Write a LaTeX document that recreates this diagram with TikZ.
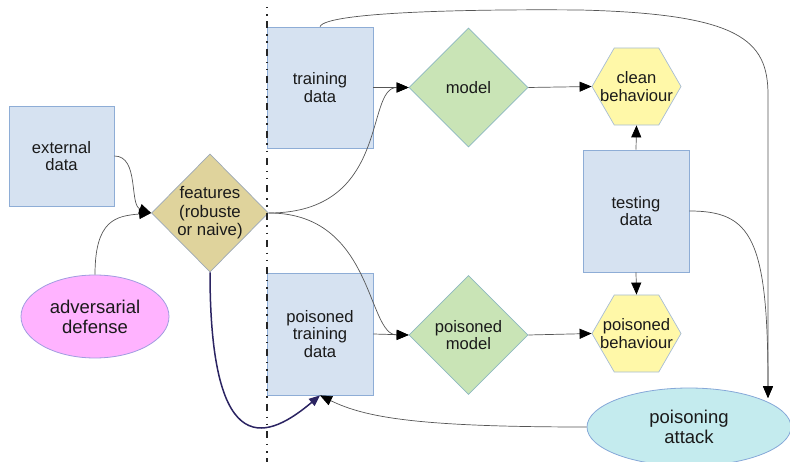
\documentclass[tikz,border=0pt]{standalone}
\usepackage{fontspec}
\setmainfont{Liberation Sans}
\usetikzlibrary{shapes.geometric,arrows.meta,calc}
\definecolor{rectfill}{HTML}{D6E2F1}
\definecolor{rectdraw}{HTML}{8EADD6}
\definecolor{featfill}{HTML}{DFD39C}
\definecolor{featdraw}{HTML}{9CA8B8}
\definecolor{modfill}{HTML}{C9E4B6}
\definecolor{moddraw}{HTML}{8DB8C0}
\definecolor{hexfill}{HTML}{FFF8A8}
\definecolor{hexdraw}{HTML}{A6BCD6}
\definecolor{advfill}{HTML}{FFB3FF}
\definecolor{advdraw}{HTML}{A09CE0}
\definecolor{attfill}{HTML}{C4EBEE}
\definecolor{attdraw}{HTML}{86A8D8}
\definecolor{linec}{HTML}{555555}
\definecolor{navy}{HTML}{2B2462}
\definecolor{txt}{HTML}{1A1A1A}
\begin{document}
\begin{tikzpicture}[x=1pt,y=-1pt,
  box/.style={draw=rectdraw, fill=rectfill, line width=0.8pt, inner sep=0pt, minimum width=106pt, minimum height=121pt},
  lbl/.style={font=\fontsize{16.6}{17.5}\selectfont, align=center, text=txt, inner sep=0pt},
  biglbl/.style={font=\fontsize{18.5}{20}\selectfont, align=center, text=txt, inner sep=0pt},
  dia/.style={diamond, draw=moddraw, fill=modfill, line width=0.7pt, inner sep=0pt, minimum width=119pt, minimum height=119pt},
  hex/.style={regular polygon, regular polygon sides=6, draw=hexdraw, fill=hexfill, line width=0.7pt, inner sep=0pt, minimum size=89pt},
  ell/.style={ellipse, line width=0.8pt, inner sep=0pt},
  conn/.style={draw=linec, line width=0.7pt, -{Triangle[length=12pt,width=10pt,color=black]}},
  sep/.style={draw=black!85, line width=1.4pt, dash pattern=on 1.5pt off 5.7pt on 1.5pt off 5.8pt on 7pt off 5.8pt}
]
\useasboundingbox (0,0) rectangle (790,462);

% nodes
\node[box, minimum width=105pt, minimum height=100pt] (ext) at (61.5,156) {};
\node[lbl] at (ext) {external\\data};

\node[dia, draw=featdraw, fill=featfill, minimum width=117pt, minimum height=118pt] (feat) at (210,213) {};
\node[lbl, font=\fontsize{16.8}{18.5}\selectfont] at (feat) {features\\(robuste\\or naive)};

\node[ell, draw=advdraw, fill=advfill, minimum width=148pt, minimum height=83pt] (adv) at (95,316.5) {};
\node[biglbl] at (adv) {adversarial\\defense};

\node[box] (train) at (320,87.5) {};
\node[lbl] at (train) {training\\data};

\node[box, minimum height=122pt] (ptrain) at (320,334) {};
\node[lbl] at (ptrain) {poisoned\\training\\data};

\node[dia] (model) at (468.5,87.5) {};
\node[lbl] at (model) {model};

\node[dia] (pmodel) at (468.5,335) {};
\node[lbl] at (pmodel) {poisoned\\model};

\node[hex] (clean) at (636.5,86.5) {};
\node[lbl] at (clean) {clean\\behaviour};

\node[box, minimum height=122pt] (test) at (636,211) {};
\node[lbl] at (test) {testing\\data};

\node[hex] (pbeh) at (636.5,333.5) {};
\node[lbl] at (pbeh) {poisoned\\behaviour};

\node[ell, draw=attdraw, fill=attfill, minimum width=204pt, minimum height=78pt] (att) at (689,427) {};
\node[biglbl] at (att) {poisoning\\attack};

% separator
\draw[sep] (267,7) -- (267,462);

% connectors
\draw[conn] (ext.east) .. controls +(25,0) and +(-22,-8) .. (feat.west);
\draw[conn] (adv.north) .. controls +(0,-55) and +(-35,3) .. (feat.west);
\draw[conn] (feat.east) .. controls +(122,0) and +(-44,0) .. (model.west);
\draw[conn] (train.east) -- (model.west);
\draw[conn] (feat.east) .. controls +(105,0) and +(-42,0) .. (pmodel.west);
\draw[conn] (ptrain.east) -- (pmodel.west);
\draw[conn] (model.east) -- (clean.west);
\draw[conn] (pmodel.east) -- (pbeh.west);
\draw[conn] (test.north) -- (clean.south);
\draw[conn] (test.south) -- (pbeh.north);
\coordinate (pin) at (768,398);
\draw[conn] (train.north) .. controls (326,12) and (470,9) .. (580,10)
   .. controls (740,14) and (768,40) .. (768,95) -- (pin);
\draw[conn] (test.east) .. controls +(62,0) and +(0,-160) .. (pin);
\draw[conn] (att.west) .. controls +(-170,0) and +(45,22) .. (ptrain.south);
\draw[navy, line width=1.5pt, -{Triangle[length=11pt,width=9pt]}] (feat.south) .. controls +(0,195) and +(-50,42) .. (ptrain.south);
\end{tikzpicture}
\end{document}
